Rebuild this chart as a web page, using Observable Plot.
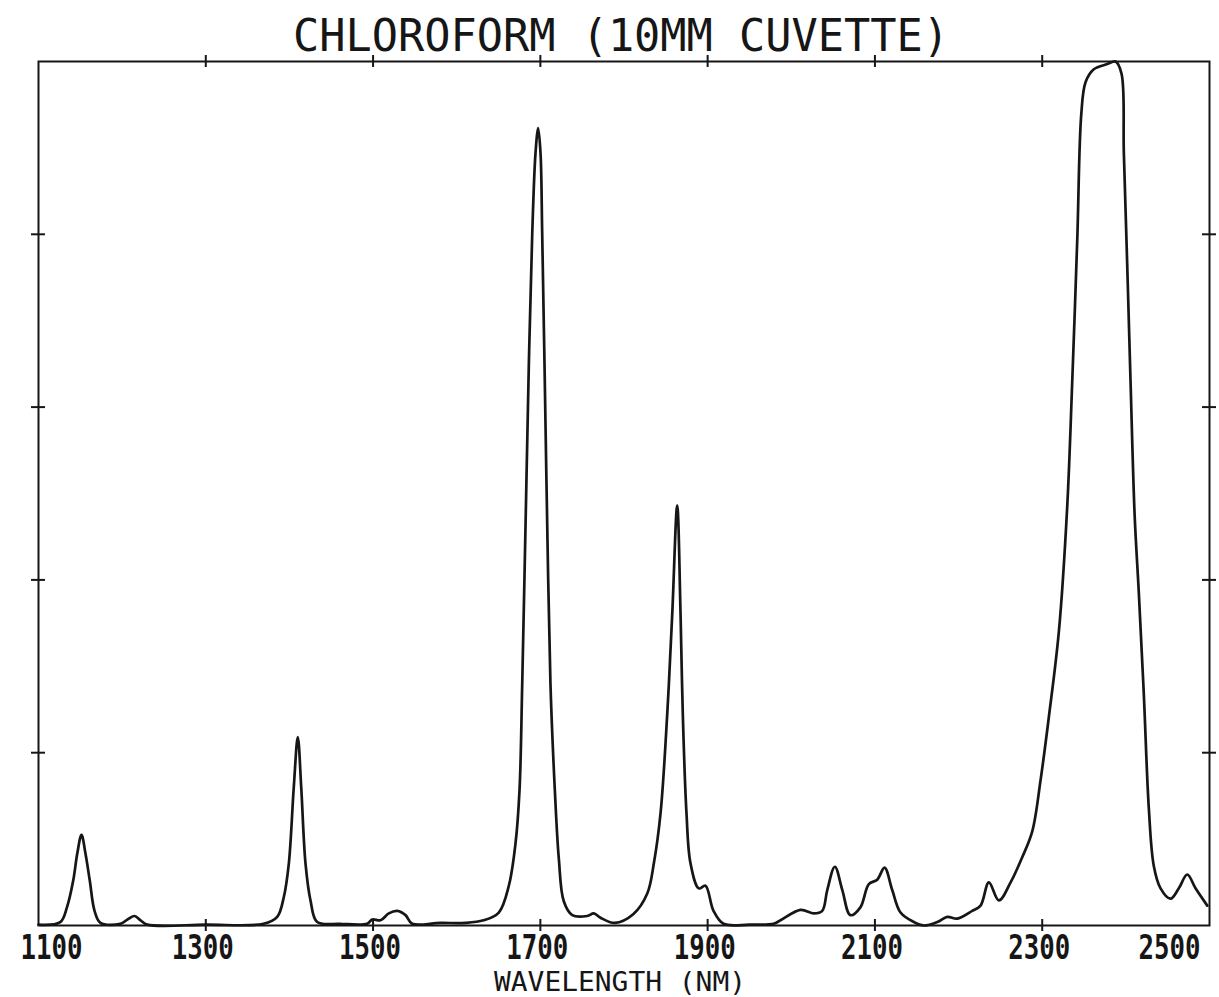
<!DOCTYPE html>
<html>
<head>
<meta charset="utf-8">
<script src="https://cdn.jsdelivr.net/npm/d3@7"></script>
<script src="https://cdn.jsdelivr.net/npm/@observablehq/plot@0.6"></script>
<style>
html, body { margin: 0; padding: 0; background: #fff; overflow: hidden; }
</style>
</head>
<body>
<div id="chart"></div>
<script>
// Wavelength (nm) and relative absorbance (frame top = 1)
const wavelength = [
  1100, 1126, 1134, 1141.5, 1146.3, 1151.4, 1156.2, 1161.3, 1167, 1174,
  1198, 1208, 1214.8, 1222, 1230, 1300, 1369, 1385.4, 1393.3, 1399.3,
  1405.2, 1410, 1414.1, 1419.2, 1425.2, 1433.2, 1460, 1493, 1499, 1508.9,
  1518.8, 1528.9, 1538.8, 1546.8, 1580.6, 1610, 1632, 1650.3, 1662.3, 1670.3,
  1675.1, 1678.3, 1682.3, 1686.2, 1690.3, 1694.2, 1697.4, 1700.2, 1702.2, 1705,
  1708.2, 1712.1, 1717.3, 1722.1, 1728, 1738.1, 1756, 1763.9, 1771.9, 1789,
  1811, 1827.8, 1835.7, 1843.7, 1851.7, 1857.7, 1863.6, 1867.6, 1870.3, 1874.7,
  1879.5, 1889.4, 1897.4, 1907, 1919, 1950, 1978.8, 1987.1, 2011, 2027,
  2037, 2043, 2052.1, 2061, 2070.6, 2082.6, 2092.7, 2102.7, 2111.5, 2120.7,
  2130.6, 2146.5, 2158.5, 2174.5, 2186.5, 2198.4, 2216.3, 2226.3, 2236.2, 2248.2,
  2262.2, 2276.1, 2288.1, 2298, 2307.9, 2319.9, 2329.9, 2335.9, 2341.9, 2346.7,
  2351.8, 2361.7, 2377.8, 2387.7, 2394.8, 2397.6, 2401.7, 2405.6, 2410.5, 2415.5,
  2421.5, 2427.5, 2433.4, 2441.5, 2453.4, 2463.3, 2473.4, 2483.3, 2497.3
];
const absorbance = [
  0.001, 0.004, 0.021, 0.052, 0.083, 0.105, 0.083, 0.052, 0.017, 0.003,
  0.002, 0.008, 0.011, 0.006, 0.001, 0.001, 0.002, 0.010, 0.033, 0.072,
  0.160, 0.218, 0.160, 0.072, 0.029, 0.004, 0.002, 0.002, 0.007, 0.006,
  0.014, 0.017, 0.012, 0.002, 0.003, 0.003, 0.006, 0.015, 0.046, 0.095,
  0.157, 0.279, 0.464, 0.648, 0.801, 0.894, 0.923, 0.894, 0.801, 0.648,
  0.464, 0.279, 0.157, 0.077, 0.028, 0.012, 0.011, 0.014, 0.009, 0.003,
  0.013, 0.037, 0.072, 0.130, 0.245, 0.361, 0.486, 0.361, 0.245, 0.130,
  0.072, 0.043, 0.046, 0.017, 0.002, 0.001, 0.002, 0.006, 0.018, 0.014,
  0.017, 0.041, 0.068, 0.041, 0.012, 0.021, 0.048, 0.053, 0.067, 0.041,
  0.015, 0.004, 0.000, 0.004, 0.010, 0.008, 0.017, 0.023, 0.050, 0.029,
  0.050, 0.079, 0.109, 0.168, 0.241, 0.340, 0.485, 0.630, 0.794, 0.939,
  0.976, 0.991, 0.997, 1.000, 0.986, 0.894, 0.762, 0.630, 0.475, 0.385,
  0.267, 0.135, 0.069, 0.043, 0.031, 0.043, 0.059, 0.043, 0.023
];
const xTicks = [1100, 1300, 1500, 1700, 1900, 2100, 2300, 2500];
const xTickLabels = ["1100", "1300", "1500", "1700", "1900", "2100", "2300", "2500"];
const yTicks = [0.2, 0.4, 0.6, 0.8];
const titleText = "CHLOROFORM (10MM CUVETTE)";
const xLabelText = "WAVELENGTH (NM)";

const spectrum = wavelength.map((w, i) => ({w, a: absorbance[i]}));
const innerTicks = xTicks.slice(1, -1);
const labelRows = xTicks.map((v, i) => ({v, label: xTickLabels[i]}));
const ink = "#161616";
const mono = "DejaVu Sans Mono";

const chart = Plot.plot({
  width: 1219,
  height: 997,
  marginLeft: 38,
  marginRight: 10,
  marginTop: 61,
  marginBottom: 72,
  x: {domain: [1100, 2500], axis: null},
  y: {domain: [0, 1], axis: null},
  style: {background: "#fff", color: ink},
  marks: [
    Plot.frame({stroke: ink, strokeWidth: 2}),
    // bottom & top tick crosses
    Plot.ruleX(innerTicks, {x: d => d, y1: () => 0, y2: () => 0, insetTop: -6, insetBottom: -6, stroke: ink, strokeWidth: 2}),
    Plot.ruleX(innerTicks, {x: d => d, y1: () => 1, y2: () => 1, insetTop: -6, insetBottom: -6, stroke: ink, strokeWidth: 2}),
    // left & right tick crosses
    Plot.ruleY(yTicks, {y: d => d, x1: () => 1100, x2: () => 1100, insetLeft: -7, insetRight: -7, stroke: ink, strokeWidth: 2}),
    Plot.ruleY(yTicks, {y: d => d, x1: () => 2500, x2: () => 2500, insetLeft: -7, insetRight: -7, stroke: ink, strokeWidth: 2}),
    // spectrum
    Plot.line(spectrum, {x: "w", y: "a", curve: "catmull-rom", stroke: ink, strokeWidth: 2.7}),
    // tick labels
    Plot.text(labelRows.filter(d => d.v > 1100 && d.v < 2500), {
      x: "v", text: "label", frameAnchor: "bottom", lineAnchor: "bottom", dy: 33, dx: -3,
      fontSize: 33, fontWeight: "bold", fontFamily: mono, fill: ink
    }),
    Plot.text(labelRows.filter(d => d.v === 1100), {
      x: "v", text: "label", frameAnchor: "bottom", lineAnchor: "bottom", textAnchor: "start", dy: 33, dx: -18,
      fontSize: 33, fontWeight: "bold", fontFamily: mono, fill: ink
    }),
    Plot.text(labelRows.filter(d => d.v === 2500), {
      x: "v", text: "label", frameAnchor: "bottom", lineAnchor: "bottom", textAnchor: "end", dy: 33, dx: -9,
      fontSize: 33, fontWeight: "bold", fontFamily: mono, fill: ink
    }),
    // title and axis label
    Plot.text([titleText], {
      text: d => d, frameAnchor: "top", lineAnchor: "bottom", dy: -11, dx: -3,
      fontSize: 45, fontFamily: mono, fill: ink
    }),
    Plot.text([xLabelText], {
      text: d => d, frameAnchor: "bottom", lineAnchor: "bottom", dy: 65, dx: -4,
      fontSize: 26, fontFamily: mono, fill: ink
    })
  ]
});

document.getElementById("chart").append(chart);

// fit text widths to the condensed plotter lettering
d3.select(chart).selectAll("text").each(function () {
  const t = this.textContent;
  let len = null;
  if (t === titleText) len = 656;
  else if (t === xLabelText) len = 252;
  else if (xTickLabels.includes(t)) len = 62;
  if (len) {
    this.setAttribute("textLength", len);
    this.setAttribute("lengthAdjust", "spacingAndGlyphs");
  }
});
</script>
</body>
</html>
